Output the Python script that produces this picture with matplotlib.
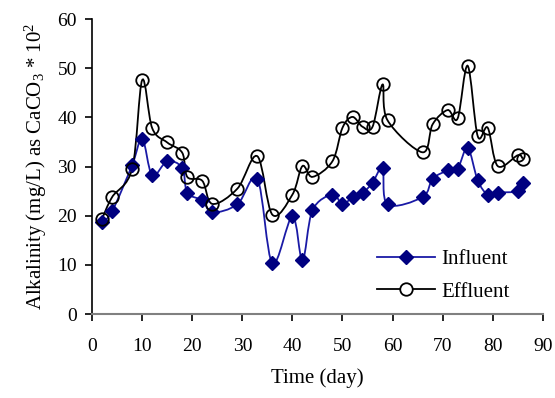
import numpy as np
import matplotlib
matplotlib.use("Agg")
import matplotlib.pyplot as plt
from matplotlib.path import Path
from matplotlib.patches import PathPatch
from matplotlib.lines import Line2D

plt.rcParams['font.family'] = ['Liberation Serif', 'DejaVu Serif']
plt.rcParams['mathtext.fontset'] = 'custom'
plt.rcParams['mathtext.rm'] = 'Liberation Serif'
plt.rcParams['mathtext.it'] = 'Liberation Serif:italic'

days = [2, 4, 8, 10, 12, 15, 18, 19, 22, 24, 29, 33, 36, 40, 42, 44,
        48, 50, 52, 54, 56, 58, 59, 66, 68, 71, 73, 75, 77, 79, 81, 85, 86]
influent = [18.7, 20.9, 30.3, 35.7, 28.2, 31.1, 29.7, 24.7, 23.1, 20.7,
            22.3, 27.5, 10.3, 19.9, 10.9, 21.1, 24.3, 22.3, 23.8, 24.6,
            26.7, 29.7, 22.3, 23.8, 27.5, 29.2, 29.6, 33.8, 27.2, 24.3,
            24.7, 25.0, 26.7]
effluent = [19.4, 23.8, 29.6, 47.6, 37.8, 34.9, 32.8, 27.9, 27.1, 22.4,
            25.5, 32.1, 20.2, 24.3, 30.1, 27.9, 31.1, 37.9, 40.1, 38.1,
            38.1, 46.7, 39.4, 32.9, 38.6, 41.5, 39.8, 50.5, 36.2, 37.9,
            30.1, 32.3, 31.6]


def smooth_path(x, y):
    # Excel-style smoothed line: cubic Bezier with Catmull-Rom control points
    x = np.asarray(x, float)
    y = np.asarray(y, float)
    n = len(x)
    verts = [(x[0], y[0])]
    codes = [Path.MOVETO]
    for i in range(n - 1):
        p0 = np.array([x[max(i - 1, 0)], y[max(i - 1, 0)]])
        p1 = np.array([x[i], y[i]])
        p2 = np.array([x[i + 1], y[i + 1]])
        p3 = np.array([x[min(i + 2, n - 1)], y[min(i + 2, n - 1)]])
        c1 = p1 + (p2 - p0) / 6.0
        c2 = p2 - (p3 - p1) / 6.0
        verts += [tuple(c1), tuple(c2), tuple(p2)]
        codes += [Path.CURVE4] * 3
    return Path(verts, codes)


fig = plt.figure(figsize=(5.55, 3.98), dpi=100, facecolor="white")
ax = fig.add_axes([0.166, 0.211, 0.812, 0.741])

blue = "#1a1aa6"
navy = "#000080"

ax.add_patch(PathPatch(smooth_path(days, influent), fill=False,
                       edgecolor=blue, lw=1.3, zorder=2))
ax.plot(days, influent, ls="none", marker="D", ms=7, color=navy,
        markeredgecolor=navy, zorder=3)
ax.add_patch(PathPatch(smooth_path(days, effluent), fill=False,
                       edgecolor="black", lw=1.3, zorder=2))
ax.plot(days, effluent, ls="none", marker="o", ms=9, markerfacecolor="none",
        markeredgecolor="black", markeredgewidth=1.3, zorder=3)

ax.set_xlim(0, 90)
ax.set_ylim(0, 60)
ax.set_xticks(np.arange(0, 91, 10))
ax.set_yticks(np.arange(0, 61, 10))
ax.spines['top'].set_visible(False)
ax.spines['right'].set_visible(False)
ax.spines['bottom'].set_color("#808080")
ax.spines['bottom'].set_linewidth(1.5)
ax.spines['left'].set_linewidth(1.2)
ax.tick_params(direction="out", length=5, width=1.2, labelsize=14,
               colors="black", pad=6)
ax.tick_params(axis='x', pad=12)

ax.set_xlabel("Time (day)", fontsize=15, labelpad=10)
ax.set_ylabel("Alkalinity (mg/L) as CaCO$_3$ * 10$^2$", fontsize=15,
              labelpad=6)

handles = [Line2D([], [], color=blue, lw=1.3, marker="D", ms=7,
                  markerfacecolor=navy, markeredgecolor=navy),
           Line2D([], [], color="black", lw=1.3, marker="o", ms=9,
                  markerfacecolor="white", markeredgecolor="black",
                  markeredgewidth=1.3)]
ax.legend(handles, ["Influent", "Effluent"], loc="center left",
          bbox_to_anchor=(0.59, 0.13), frameon=False, fontsize=15,
          handlelength=2.8, handletextpad=0.3, labelspacing=0.6)

fig.savefig("out.png", dpi=100, facecolor="white")
